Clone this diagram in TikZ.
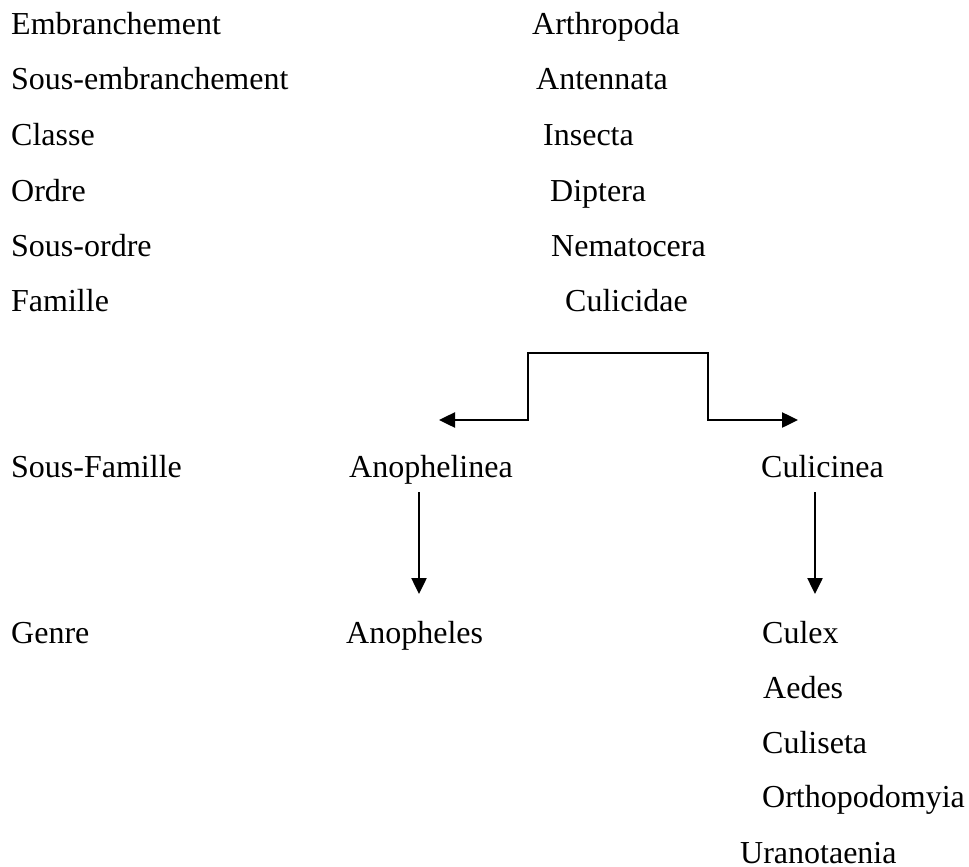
\documentclass[tikz,border=0pt]{standalone}
\usepackage{fontspec}
\setmainfont{Liberation Serif}
\usepackage{tikz}
\usetikzlibrary{arrows.meta,positioning}

\begin{document}
\begin{tikzpicture}[x=1pt,y=-1pt,
        rank/.style={anchor=base west,inner sep=0pt,font=\fontsize{32}{38}\selectfont},
        taxon/.style={rank},
        tree/.style={line width=2.5pt,-{Triangle[length=16pt,width=15pt]}}]
            \useasboundingbox (0,0) rectangle (969,867);

            \node[rank] (emb)   at (11, 35) {Embranchement};
            \node[rank] (semb)  at (11, 89) {Sous-embranchement};
            \node[rank] (cla)   at (11,145) {Classe};
            \node[rank] (ord)   at (11,201) {Ordre};
            \node[rank] (sord)  at (11,256) {Sous-ordre};
            \node[rank] (fam)   at (11,311) {Famille};
            \node[rank] (sfam)  at (11,477) {Sous-Famille};
            \node[rank] (gen)   at (11,643) {Genre};

            \node[taxon] (arthropoda) at (532, 35) {Arthropoda};
            \node[taxon] (antennata)  at (536, 89) {Antennata};
            \node[taxon] (insecta)    at (543,145) {Insecta};
            \node[taxon] (diptera)    at (550,201) {Diptera};
            \node[taxon] (nematocera) at (551,256) {Nematocera};
            \node[taxon] (culicidae)  at (565,311) {Culicidae};

            \node[taxon] (anophelinea) at (349,477) {Anophelinea};
            \node[taxon] (culicinea)   at (761,477) {Culicinea};

            \node[taxon] (anopheles)     at (346,643) {Anopheles};
            \node[taxon] (culex)         at (762,643) {Culex};
            \node[taxon] (aedes)         at (763,698) {Aedes};
            \node[taxon] (culiseta)      at (762,753) {Culiseta};
            \node[taxon] (orthopodomyia) at (762,807) {Orthopodomyia};
            \node[taxon] (uranotaenia)   at (740,863) {Uranotaenia};

            \coordinate (famsplit) at (618,353);
            \coordinate (lcorner)  at (528,420);
            \coordinate (rcorner)  at (708,420);
            \coordinate (ltip)     at (439,420);
            \coordinate (rtip)     at (798,420);

            \coordinate (anotop) at (419,492);
            \coordinate (anotip) at (419,594);
            \coordinate (culitop) at (815,492);
            \coordinate (culitip) at (815,594);

            \draw[tree] (famsplit) -| (lcorner) -- (ltip);
            \draw[tree] (famsplit) -| (rcorner) -- (rtip);
            \draw[tree] (anotop) -- (anotip);
            \draw[tree] (culitop) -- (culitip);
        \end{tikzpicture}
\end{document}
